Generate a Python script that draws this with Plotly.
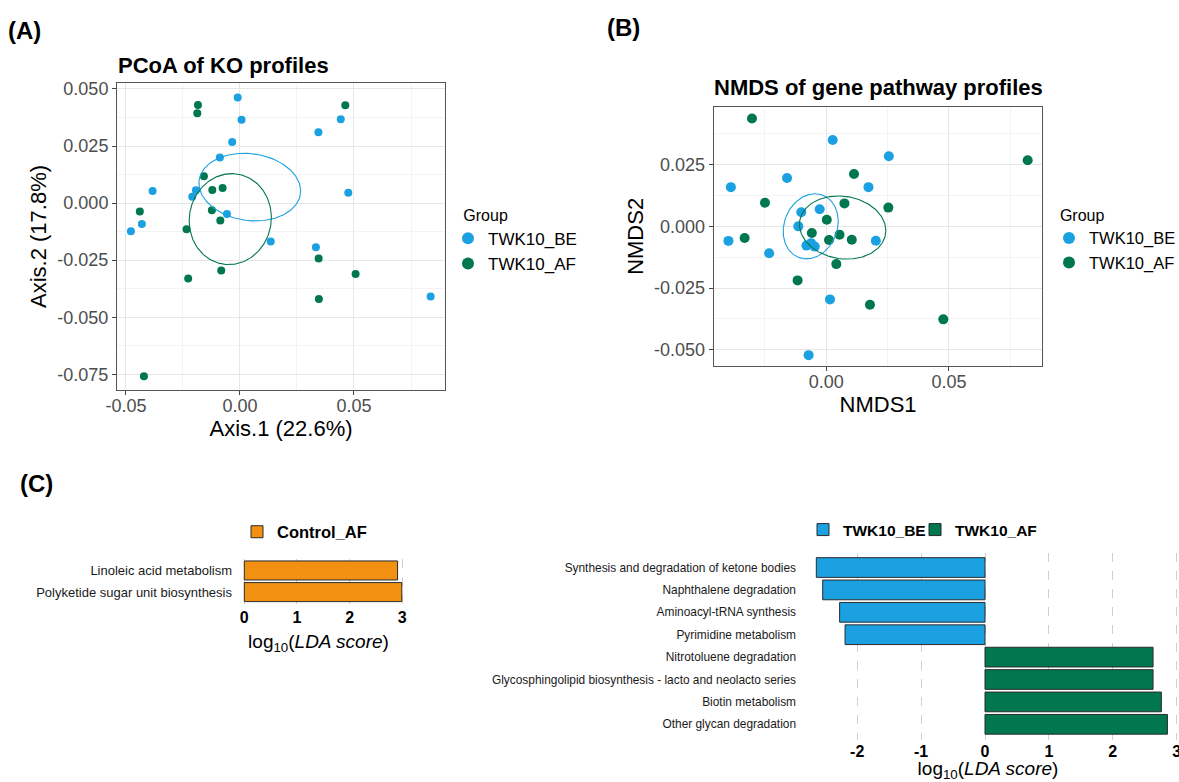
import numpy as np
import plotly.graph_objects as go

W, H = 1179, 782
FONT = "Liberation Sans, Arial, sans-serif"
BLUE = "#1BA1E2"
GREEN = "#00774F"
ORANGE = "#F29111"

# ---------------- Panel A: PCoA of KO profiles ----------------
pcoa_be_x = [-0.0010, 0.0007, -0.0034, -0.0088, 0.0344, 0.0442, 0.0475, -0.0383,
             -0.0193, -0.0209, -0.0057, -0.0430, -0.0478, 0.0135, 0.0333, 0.0836]
pcoa_be_y = [0.0462, 0.0365, 0.0268, 0.0200, 0.0310, 0.0367, 0.0045, 0.0053,
             0.0056, 0.0028, -0.0048, -0.0092, -0.0124, -0.0168, -0.0194, -0.0409]
pcoa_af_x = [-0.0184, -0.0187, 0.0462, -0.0158, -0.0121, -0.0076, -0.0439, -0.0123,
             -0.0086, -0.0234, 0.0345, -0.0082, -0.0227, 0.0507, 0.0346, -0.0421]
pcoa_af_y = [0.0430, 0.0393, 0.0428, 0.0118, 0.0057, 0.0066, -0.0037, -0.0031,
             -0.0076, -0.0115, -0.0243, -0.0295, -0.0330, -0.0311, -0.0420, -0.0759]
pcoa_xticks = [-0.05, 0.0, 0.05]
pcoa_xticktext = ["-0.05", "0.00", "0.05"]
pcoa_yticks = [-0.075, -0.05, -0.025, 0.0, 0.025, 0.05]
pcoa_yticktext = ["-0.075", "-0.050", "-0.025", "0.000", "0.025", "0.050"]

# ---------------- Panel B: NMDS of gene pathway profiles ----------------
nmds_be_x = [0.0026, 0.0255, -0.0160, -0.0389, 0.0172, -0.0102, -0.0027, -0.0114,
             -0.0399, -0.0081, -0.0047, 0.0202, -0.0233, 0.0015, -0.0072, -0.0062]
nmds_be_y = [0.0350, 0.0284, 0.0196, 0.0159, 0.0159, 0.0057, 0.0069, 0.0000,
             -0.0059, -0.0078, -0.0082, -0.0058, -0.0109, -0.0296, -0.0522, -0.0068]
nmds_af_x = [-0.0303, 0.0821, 0.0113, -0.0250, 0.0074, 0.0253, 0.0002, -0.0059,
             -0.0333, 0.0011, 0.0054, 0.0104, 0.0041, -0.0117, 0.0178, 0.0477]
nmds_af_y = [0.0437, 0.0268, 0.0212, 0.0096, 0.0093, 0.0076, 0.0027, -0.0027,
             -0.0047, -0.0055, -0.0034, -0.0054, -0.0153, -0.0219, -0.0318, -0.0377]
nmds_xticks = [0.0, 0.05]
nmds_xticktext = ["0.00", "0.05"]
nmds_yticks = [-0.05, -0.025, 0.0, 0.025]
nmds_yticktext = ["-0.050", "-0.025", "0.000", "0.025"]

# ---------------- Panel C: LEfSe LDA scores ----------------
ctrl_pathways = ["Linoleic acid metabolism", "Polyketide sugar unit biosynthesis"]
ctrl_lda = [2.91, 2.99]
be_pathways = ["Synthesis and degradation of ketone bodies", "Naphthalene degradation",
               "Aminoacyl-tRNA synthesis", "Pyrimidine metabolism"]
be_lda = [-2.64, -2.54, -2.275, -2.19]
af_pathways = ["Nitrotoluene degradation",
               "Glycosphingolipid biosynthesis - lacto and neolacto series",
               "Biotin metabolism", "Other glycan degradation"]
af_lda = [2.63, 2.63, 2.76, 2.855]
lda_ticks_left = [0, 1, 2, 3]
lda_ticks_right = [-2, -1, 0, 1, 2, 3]


def dx(px):
    return px / W


def dy(py):
    return 1 - py / H


def se_ellipse(xs, ys, n_pts=240):
    """95% confidence ellipse of the group centroid (standard-error ellipse)."""
    x = np.asarray(xs, float)
    y = np.asarray(ys, float)
    cov = np.cov(x, y) / len(x)
    vals, vecs = np.linalg.eigh(cov)
    scale = np.sqrt(5.991464547107979)  # qchisq(0.95, df=2)
    t = np.linspace(0, 2 * np.pi, n_pts)
    circ = np.vstack([np.cos(t), np.sin(t)])
    pts = vecs @ (np.sqrt(vals)[:, None] * scale * circ)
    return pts[0] + x.mean(), pts[1] + y.mean()


fig = go.Figure()

# ---- Panel A traces
for gx, gy, col, name in [(pcoa_be_x, pcoa_be_y, BLUE, "TWK10_BE"),
                          (pcoa_af_x, pcoa_af_y, GREEN, "TWK10_AF")]:
    fig.add_trace(go.Scatter(x=gx, y=gy, mode="markers", name=name,
                             marker=dict(color=col, size=8), xaxis="x", yaxis="y",
                             legend="legend"))
for gx, gy, col in [(pcoa_be_x, pcoa_be_y, BLUE), (pcoa_af_x, pcoa_af_y, GREEN)]:
    ex, ey = se_ellipse(gx, gy)
    fig.add_trace(go.Scatter(x=ex, y=ey, mode="lines", line=dict(color=col, width=1.1),
                             showlegend=False, hoverinfo="skip", xaxis="x", yaxis="y"))

# ---- Panel B traces
for gx, gy, col, name in [(nmds_be_x, nmds_be_y, BLUE, "TWK10_BE"),
                          (nmds_af_x, nmds_af_y, GREEN, "TWK10_AF")]:
    fig.add_trace(go.Scatter(x=gx, y=gy, mode="markers", name=name,
                             marker=dict(color=col, size=10), xaxis="x2", yaxis="y2",
                             legend="legend2"))
for gx, gy, col in [(nmds_be_x, nmds_be_y, BLUE), (nmds_af_x, nmds_af_y, GREEN)]:
    ex, ey = se_ellipse(gx, gy)
    fig.add_trace(go.Scatter(x=ex, y=ey, mode="lines", line=dict(color=col, width=1.1),
                             showlegend=False, hoverinfo="skip", xaxis="x2", yaxis="y2"))

# ---- Panel C left
fig.add_trace(go.Bar(x=ctrl_lda, y=ctrl_pathways, orientation="h", name="Control_AF",
                     width=0.88, marker=dict(color=ORANGE, line=dict(color="#2b2b2b", width=1)),
                     xaxis="x3", yaxis="y3", legend="legend3"))
# ---- Panel C right
fig.add_trace(go.Bar(x=be_lda, y=be_pathways, orientation="h", name="TWK10_BE",
                     width=0.88, marker=dict(color=BLUE, line=dict(color="#2b2b2b", width=1)),
                     xaxis="x4", yaxis="y4", legend="legend4"))
fig.add_trace(go.Bar(x=af_lda, y=af_pathways, orientation="h", name="TWK10_AF",
                     width=0.88, marker=dict(color=GREEN, line=dict(color="#2b2b2b", width=1)),
                     xaxis="x4", yaxis="y4", legend="legend5"))


def minor_vals(ticks):
    step = ticks[1] - ticks[0]
    return list(np.arange(ticks[0] - step / 2, ticks[-1] + step, step))


scatter_axis = dict(showline=True, mirror=True, linecolor="#555555", linewidth=1,
                    showgrid=True, gridcolor="#e6e6e6", gridwidth=1, zeroline=False,
                    ticks="outside", ticklen=4, tickcolor="#444444", automargin=False,
                    tickfont=dict(family=FONT, size=18, color="#4d4d4d"),
                    tickmode="array")
title_font = dict(family=FONT, size=22, color="#000000")

bar_x_axis = dict(showline=False, zeroline=False, showgrid=True, gridcolor="#cfcfcf",
                  griddash="dash", gridwidth=1, ticks="", automargin=False,
                  ticklabeloverflow="allow",
                  tickfont=dict(family=FONT, size=16, color="#000000", weight="bold"),
                  tickmode="array")
bar_y_axis = dict(type="category", categoryorder="array", showline=False, showgrid=False,
                  zeroline=False, ticks="", automargin=False)

lda_title = "log<sub>10</sub>(<i>LDA score</i>)"
NB = "\u00a0"
bar_legend = dict(xanchor="left", yanchor="middle", bgcolor="rgba(0,0,0,0)",
                  font=dict(family=FONT, size=15.5, weight="bold"))

fig.update_layout(
    template="none",
    width=W, height=H, autosize=False,
    margin=dict(l=0, r=0, t=0, b=0, pad=0, autoexpand=False),
    paper_bgcolor="white", plot_bgcolor="white",
    barmode="relative",
    font=dict(family=FONT, color="#000000"),
    xaxis=dict(scatter_axis, domain=[dx(117), dx(445)], range=[-0.0539, 0.0899],
               tickvals=pcoa_xticks, ticktext=pcoa_xticktext, anchor="y",
               ticklabelstandoff=-5,
               minor=dict(tickmode="array", tickvals=minor_vals(pcoa_xticks), showgrid=True,
                          gridcolor="#f3f3f3", gridwidth=0.7, ticks=""),
               title=dict(text="Axis.1 (22.6%)", font=title_font, standoff=0)),
    yaxis=dict(scatter_axis, domain=[dy(390), dy(83)], range=[-0.0819, 0.0526],
               tickvals=pcoa_yticks, ticktext=pcoa_yticktext, anchor="x",
               minor=dict(tickmode="array", tickvals=minor_vals(pcoa_yticks), showgrid=True,
                          gridcolor="#f3f3f3", gridwidth=0.7, ticks=""),
               title=dict(text="Axis.2 (17.8%)", font=title_font, standoff=4)),
    xaxis2=dict(scatter_axis, domain=[dx(713.7), dx(1042.4)], range=[-0.0459, 0.0881],
                tickvals=nmds_xticks, ticktext=nmds_xticktext, anchor="y2",
                ticklabelstandoff=-5,
                minor=dict(tickmode="array", tickvals=minor_vals(nmds_xticks), showgrid=True,
                           gridcolor="#f3f3f3", gridwidth=0.7, ticks=""),
                title=dict(text="NMDS1", font=title_font, standoff=0)),
    yaxis2=dict(scatter_axis, domain=[dy(366), dy(106.7)], range=[-0.0566, 0.0485],
                tickvals=nmds_yticks, ticktext=nmds_yticktext, anchor="x2",
                minor=dict(tickmode="array", tickvals=minor_vals(nmds_yticks), showgrid=True,
                           gridcolor="#f3f3f3", gridwidth=0.7, ticks=""),
                title=dict(text="NMDS2", font=title_font, standoff=4)),
    xaxis3=dict(bar_x_axis, domain=[dx(233), dx(404)], range=[-0.2145, 3.032],
                tickvals=lda_ticks_left, ticktext=[str(v) for v in lda_ticks_left],
                anchor="y3", ticklabelstandoff=2,
                title=dict(text=lda_title, font=dict(family=FONT, size=19), standoff=9)),
    yaxis3=dict(bar_y_axis, domain=[dy(604), dy(559)], categoryarray=ctrl_pathways,
                tickfont=dict(family=FONT, size=13, color="#1a1a1a"),
                range=[len(ctrl_pathways) - 1 + 0.55, -0.53], anchor="x3"),
    xaxis4=dict(bar_x_axis, domain=[dx(797), 1.0], range=[-2.942, 3.036],
                tickvals=lda_ticks_right, ticktext=[str(v) for v in lda_ticks_right],
                anchor="y4",
                title=dict(text=lda_title, font=dict(family=FONT, size=19), standoff=11)),
    yaxis4=dict(bar_y_axis, domain=[dy(740), dy(553)],
                categoryarray=be_pathways + af_pathways,
                tickfont=dict(family=FONT, size=11.9, color="#1a1a1a"),
                range=[len(be_pathways + af_pathways) - 1 + 0.70, -0.648], anchor="x4"),
    legend=dict(x=dx(448), y=dy(200), xanchor="left", yanchor="top",
                bgcolor="rgba(0,0,0,0)", font=dict(family=FONT, size=17),
                title=dict(text=NB * 3 + "Group", font=dict(family=FONT, size=16)),
                itemsizing="constant"),
    legend2=dict(x=dx(1049), y=dy(200), xanchor="left", yanchor="top",
                 bgcolor="rgba(0,0,0,0)", font=dict(family=FONT, size=16.5),
                 title=dict(text=NB * 2 + "Group", font=dict(family=FONT, size=16)),
                 itemsizing="constant"),
    legend3=dict(bar_legend, x=dx(237), y=dy(532), font=dict(family=FONT, size=16.5,
                                                             weight="bold")),
    legend4=dict(bar_legend, x=dx(803), y=dy(530)),
    legend5=dict(bar_legend, x=dx(915), y=dy(530)),
    annotations=[
        dict(text="<b>(A)</b>", x=dx(6), y=dy(31), xref="paper", yref="paper",
             xanchor="left", yanchor="middle", showarrow=False, font=dict(family=FONT, size=24)),
        dict(text="<b>(B)</b>", x=dx(605), y=dy(28), xref="paper", yref="paper",
             xanchor="left", yanchor="middle", showarrow=False, font=dict(family=FONT, size=24)),
        dict(text="<b>(C)</b>", x=dx(18), y=dy(483), xref="paper", yref="paper",
             xanchor="left", yanchor="middle", showarrow=False, font=dict(family=FONT, size=24)),
        dict(text="<b>PCoA of KO profiles</b>", x=dx(116), y=dy(65), xref="paper", yref="paper",
             xanchor="left", yanchor="middle", showarrow=False, font=dict(family=FONT, size=22)),
        dict(text="<b>NMDS of gene pathway profiles</b>", x=dx(712), y=dy(88), xref="paper",
             yref="paper", xanchor="left", yanchor="middle", showarrow=False,
             font=dict(family=FONT, size=22)),
    ],
)

fig.write_html("out.html", config={"displayModeBar": False},
               post_script="document.body.style.margin='0px';")
